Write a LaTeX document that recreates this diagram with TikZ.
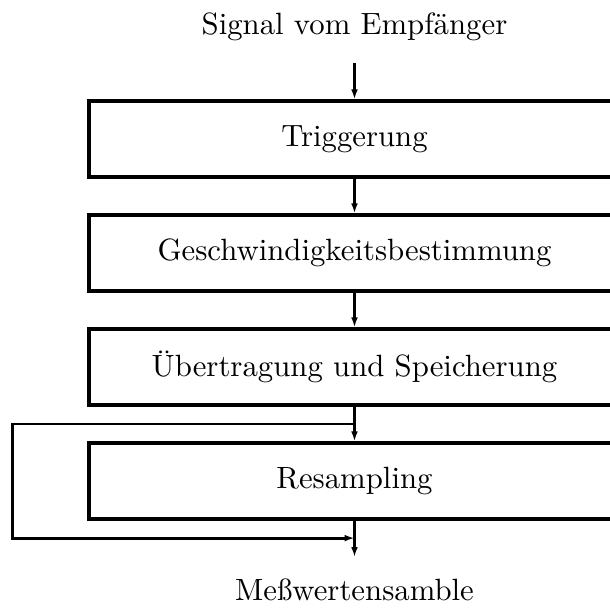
\documentclass[tikz,border=0pt]{standalone}
\usepackage{tikz}
\usetikzlibrary{arrows.meta, positioning, calc}

\begin{document}
\begin{tikzpicture}[x=0.325pt, y=-0.325pt, node distance=11.25pt,
		block/.style={rectangle, draw, line width=1.1pt, minimum width=172.6pt, minimum height=24.7pt, inner sep=0pt},
		beschriftung/.style={inner xsep=0pt, inner ysep=7pt},
		line/.style={draw, -{Latex[length=3.2pt,width=2.2pt]}, line width=0.7pt},
		schleife/.style={draw, -{Latex[length=3.2pt,width=2.2pt]}, line width=0.9pt}]
		
		\useasboundingbox (0,0) rectangle (610,608);
		\clip (0,0) rectangle (610,608);
		
		\node [block] (trig) at (354.5,139) {Triggerung};
		\node [block, below=of trig] (geschw) {Geschwindigkeitsbestimmung};
		\node [block, below=of geschw] (uebertr) {Übertragung und Speicherung};
		\node [block, below=of uebertr] (resamp) {Resampling};
		\node [beschriftung, above=11.8pt of trig] (signal) {Signal vom Empfänger};
		\node [beschriftung, below=11.8pt of resamp] (ende) {Meßwertensamble};
		
		% Hilfspunkte fuer die Schleife
		\coordinate (abzweig) at ($(uebertr.south)!0.5!(resamp.north)$);
		\coordinate (rueck) at ($(resamp.south)!0.48!(ende.north)$);
		\coordinate (links) at ([xshift=-24.4pt]resamp.west);
		
		% Liens
		\path [line] (signal) -- (trig);
		\path [line] (trig) -- (geschw);
		\path [line] (geschw) -- (uebertr);
		\path [line] (uebertr) -- (resamp);
		\path [line] (resamp) -- (ende);
		\path [schleife] (abzweig) -- (abzweig -| links) -- (rueck -| links) -- (rueck);
		
	\end{tikzpicture}
\end{document}
